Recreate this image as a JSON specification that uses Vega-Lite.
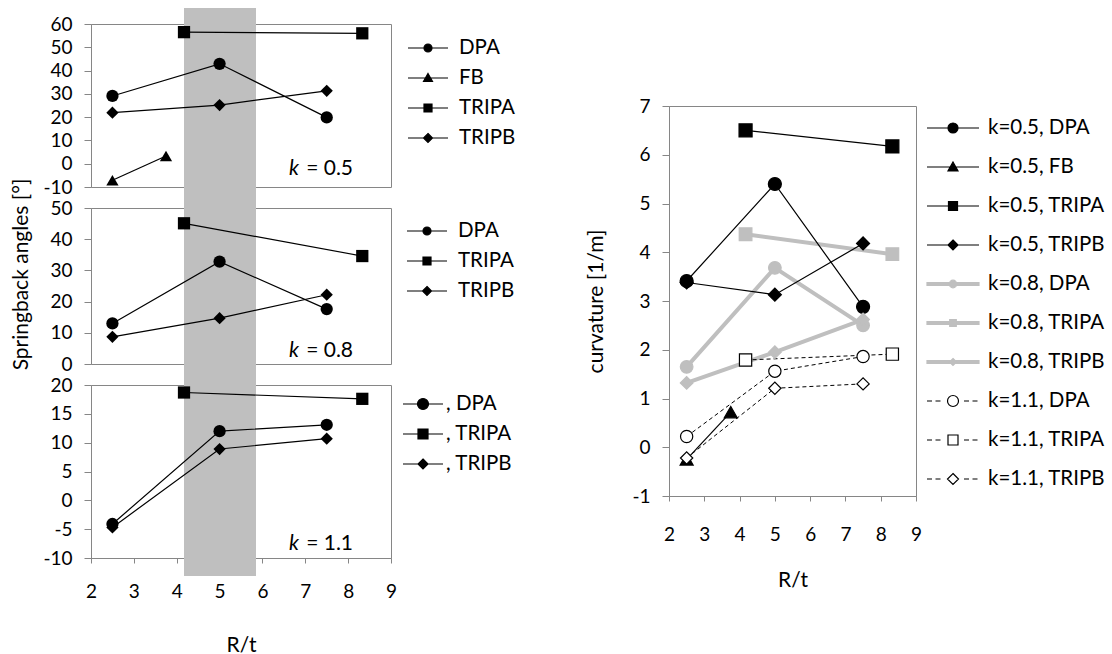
{
  "$schema": "https://vega.github.io/schema/vega-lite/v6.json",
  "background": "white",
  "padding": {"left": 10, "top": 7, "right": 0, "bottom": 0},
  "autosize": {"type": "pad"},
  "config": {
    "font": "Lato",
    "view": {"stroke": "#868686", "strokeWidth": 1},
    "axis": {"labelFont": "Lato", "labelFontSize": 19, "labelColor": "black", "domainColor": "#868686", "tickColor": "#868686", "grid": false, "titleFont": "Lato", "titleFontSize": 21, "titleFontWeight": "normal", "titleColor": "black", "labelFlush": false, "labelOverlap": false, "tickSize": 7, "labelPadding": 12},
    "legend": {"labelFont": "Lato", "labelFontSize": 20.5, "labelColor": "black"}
  },
  "datasets": {
    "band": [{"from": 4.17, "to": 5.85}],
    "left": [
      {"k": "0.5", "method": "DPA", "x": 2.5, "y": 29.1},
      {"k": "0.5", "method": "DPA", "x": 5, "y": 42.9},
      {"k": "0.5", "method": "DPA", "x": 7.5, "y": 19.9},
      {"k": "0.5", "method": "FB", "x": 2.5, "y": -7.1},
      {"k": "0.5", "method": "FB", "x": 3.75, "y": 3.3},
      {"k": "0.5", "method": "TRIPA", "x": 4.17, "y": 56.5},
      {"k": "0.5", "method": "TRIPA", "x": 8.33, "y": 56.0},
      {"k": "0.5", "method": "TRIPB", "x": 2.5, "y": 21.9},
      {"k": "0.5", "method": "TRIPB", "x": 5, "y": 25.2},
      {"k": "0.5", "method": "TRIPB", "x": 7.5, "y": 31.3},
      {"k": "0.8", "method": "DPA", "x": 2.5, "y": 13.0},
      {"k": "0.8", "method": "DPA", "x": 5, "y": 32.8},
      {"k": "0.8", "method": "DPA", "x": 7.5, "y": 17.6},
      {"k": "0.8", "method": "TRIPA", "x": 4.17, "y": 45.1},
      {"k": "0.8", "method": "TRIPA", "x": 8.33, "y": 34.6},
      {"k": "0.8", "method": "TRIPB", "x": 2.5, "y": 8.7},
      {"k": "0.8", "method": "TRIPB", "x": 5, "y": 14.7},
      {"k": "0.8", "method": "TRIPB", "x": 7.5, "y": 22.2},
      {"k": "1.1", "method": "DPA", "x": 2.5, "y": -4.1},
      {"k": "1.1", "method": "DPA", "x": 5, "y": 12.0},
      {"k": "1.1", "method": "DPA", "x": 7.5, "y": 13.1},
      {"k": "1.1", "method": "TRIPA", "x": 4.17, "y": 18.7},
      {"k": "1.1", "method": "TRIPA", "x": 8.33, "y": 17.6},
      {"k": "1.1", "method": "TRIPB", "x": 2.5, "y": -4.7},
      {"k": "1.1", "method": "TRIPB", "x": 5, "y": 8.9},
      {"k": "1.1", "method": "TRIPB", "x": 7.5, "y": 10.7}
    ],
    "right": [
      {"series": "k=0.5, DPA", "k": "0.5", "x": 2.5, "y": 3.41},
      {"series": "k=0.5, DPA", "k": "0.5", "x": 5, "y": 5.4},
      {"series": "k=0.5, DPA", "k": "0.5", "x": 7.5, "y": 2.88},
      {"series": "k=0.5, FB", "k": "0.5", "x": 2.5, "y": -0.25},
      {"series": "k=0.5, FB", "k": "0.5", "x": 3.75, "y": 0.72},
      {"series": "k=0.5, TRIPA", "k": "0.5", "x": 4.17, "y": 6.5},
      {"series": "k=0.5, TRIPA", "k": "0.5", "x": 8.33, "y": 6.17},
      {"series": "k=0.5, TRIPB", "k": "0.5", "x": 2.5, "y": 3.38},
      {"series": "k=0.5, TRIPB", "k": "0.5", "x": 5, "y": 3.13},
      {"series": "k=0.5, TRIPB", "k": "0.5", "x": 7.5, "y": 4.18},
      {"series": "k=0.8, DPA", "k": "0.8", "x": 2.5, "y": 1.65},
      {"series": "k=0.8, DPA", "k": "0.8", "x": 5, "y": 3.68},
      {"series": "k=0.8, DPA", "k": "0.8", "x": 7.5, "y": 2.5},
      {"series": "k=0.8, TRIPA", "k": "0.8", "x": 4.17, "y": 4.37},
      {"series": "k=0.8, TRIPA", "k": "0.8", "x": 8.33, "y": 3.96},
      {"series": "k=0.8, TRIPB", "k": "0.8", "x": 2.5, "y": 1.32},
      {"series": "k=0.8, TRIPB", "k": "0.8", "x": 5, "y": 1.95},
      {"series": "k=0.8, TRIPB", "k": "0.8", "x": 7.5, "y": 2.62},
      {"series": "k=1.1, DPA", "k": "1.1", "x": 2.5, "y": 0.22},
      {"series": "k=1.1, DPA", "k": "1.1", "x": 5, "y": 1.56},
      {"series": "k=1.1, DPA", "k": "1.1", "x": 7.5, "y": 1.86},
      {"series": "k=1.1, TRIPA", "k": "1.1", "x": 4.17, "y": 1.79},
      {"series": "k=1.1, TRIPA", "k": "1.1", "x": 8.33, "y": 1.91},
      {"series": "k=1.1, TRIPB", "k": "1.1", "x": 2.5, "y": -0.22},
      {"series": "k=1.1, TRIPB", "k": "1.1", "x": 5, "y": 1.21},
      {"series": "k=1.1, TRIPB", "k": "1.1", "x": 7.5, "y": 1.3}
    ]
  },
  "hconcat": [
    {
      "vconcat": [
        {
          "width": 300, "height": 163,
          "encoding": {
            "x": {"type": "quantitative", "scale": {"domain": [2, 9]}, "axis": null},
            "y": {"type": "quantitative", "scale": {"domain": [-10, 60]}, "axis": {"values": [-10, 0, 10, 20, 30, 40, 50, 60], "title": null, "labelOverlap": false, "labelExpr": "'' + datum.value"}}
          },
          "layer": [
            {"data": {"name": "band"}, "mark": {"type": "rect", "color": "#bfbfbf"},
             "encoding": {"x": {"field": "from", "type": "quantitative", "scale": {"domain": [2, 9]}, "axis": null}, "x2": {"field": "to"},
                          "y": {"datum": 66.9, "type": "quantitative", "scale": {"domain": [-10, 60]}, "axis": {"values": [-10, 0, 10, 20, 30, 40, 50, 60], "title": null, "labelOverlap": false, "labelExpr": "'' + datum.value"}}, "y2": {"datum": -19}}},
            {"data": {"name": "left"}, "transform": [{"filter": "datum.k == '0.5'"}], "mark": {"type": "line", "color": "black", "strokeWidth": 1.2},
             "encoding": {"x": {"field": "x"}, "y": {"field": "y"}, "detail": {"field": "method"}}},
            {"data": {"name": "left"}, "transform": [{"filter": "datum.k == '0.5'"}], "mark": {"type": "point", "filled": true, "color": "black", "opacity": 1, "size": 150},
             "encoding": {"x": {"field": "x"}, "y": {"field": "y"},
                          "shape": {"field": "method", "type": "nominal", "scale": {"domain": ["DPA", "FB", "TRIPA", "TRIPB"], "range": ["circle", "triangle-up", "square", "diamond"]}, "legend": null}}},
            {"data": {"name": "left"}, "transform": [{"filter": "false"}], "mark": {"type": "point", "filled": true, "opacity": 1},
             "encoding": {"x": {"field": "x"}, "y": {"field": "y"},
                          "fill": {"field": "method", "type": "nominal", "scale": {"domain": ["DPA", "FB", "TRIPA", "TRIPB"], "range": ["black", "black", "black", "black"]},
                                   "legend": {"title": null, "symbolSize": 400, "symbolOpacity": 1, "symbolStrokeWidth": 1.2, "labelOffset": 20, "offset": 13, "padding": 13, "rowPadding": 8}},
                          "stroke": {"field": "method", "type": "nominal", "scale": {"domain": ["DPA", "FB", "TRIPA", "TRIPB"], "range": ["black", "black", "black", "black"]},
                                   "legend": {"title": null, "symbolSize": 400, "symbolOpacity": 1, "symbolStrokeWidth": 1.2, "labelOffset": 20, "offset": 13, "padding": 13, "rowPadding": 8}},
                          "shape": {"field": "method", "type": "nominal", "scale": {"domain": ["DPA", "FB", "TRIPA", "TRIPB"], "range": ["M-2,0H2M-0.4,0A0.4,0.4 0 1,1 0.4,0A0.4,0.4 0 1,1 -0.4,0Z", "M-2,0H2M0,-0.45L0.45,0.35L-0.45,0.35Z", "M-2,0H2M-0.4,-0.4H0.4V0.4H-0.4Z", "M-2,0H2M0,-0.45L0.45,0L0,0.45L-0.45,0Z"]},
                                    "legend": {"title": null, "symbolSize": 400, "symbolOpacity": 1, "symbolStrokeWidth": 1.2, "labelOffset": 20, "offset": 13, "padding": 13, "rowPadding": 8}}}},
            {"data": {"values": [{"t": "k"}]}, "mark": {"type": "text", "fontSize": 21, "fontStyle": "italic", "align": "left", "baseline": "middle", "color": "black"},
             "encoding": {"x": {"datum": 6.62}, "y": {"datum": -2.3}, "text": {"field": "t"}}},
            {"data": {"values": [{"t": "= 0.5"}]}, "mark": {"type": "text", "fontSize": 21, "align": "left", "baseline": "middle", "color": "black"},
             "encoding": {"x": {"datum": 7.02}, "y": {"datum": -2.3}, "text": {"field": "t"}}}
          ],
          "resolve": {"scale": {"shape": "independent", "fill": "independent", "stroke": "independent"}, "legend": {"shape": "independent", "fill": "independent", "stroke": "independent"}}
        },
        {
          "width": 300, "height": 156,
          "encoding": {
            "x": {"type": "quantitative", "scale": {"domain": [2, 9]}, "axis": null},
            "y": {"type": "quantitative", "scale": {"domain": [0, 50]}, "axis": {"values": [0, 10, 20, 30, 40, 50], "title": "Springback angles [°]", "titleY": 66, "titlePadding": 18, "labelOverlap": false}}
          },
          "layer": [
            {"data": {"name": "band"}, "mark": {"type": "rect", "color": "#bfbfbf"},
             "encoding": {"x": {"field": "from", "type": "quantitative", "scale": {"domain": [2, 9]}, "axis": null}, "x2": {"field": "to"},
                          "y": {"datum": 50.3, "type": "quantitative", "scale": {"domain": [0, 50]}, "axis": {"values": [0, 10, 20, 30, 40, 50], "title": "Springback angles [°]", "titleY": 66, "titlePadding": 18, "labelOverlap": false}}, "y2": {"datum": -7.1}}},
            {"data": {"name": "left"}, "transform": [{"filter": "datum.k == '0.8'"}], "mark": {"type": "line", "color": "black", "strokeWidth": 1.2},
             "encoding": {"x": {"field": "x"}, "y": {"field": "y"}, "detail": {"field": "method"}}},
            {"data": {"name": "left"}, "transform": [{"filter": "datum.k == '0.8'"}], "mark": {"type": "point", "filled": true, "color": "black", "opacity": 1, "size": 150},
             "encoding": {"x": {"field": "x"}, "y": {"field": "y"},
                          "shape": {"field": "method", "type": "nominal", "scale": {"domain": ["DPA", "TRIPA", "TRIPB"], "range": ["circle", "square", "diamond"]}, "legend": null}}},
            {"data": {"name": "left"}, "transform": [{"filter": "false"}], "mark": {"type": "point", "filled": true, "opacity": 1},
             "encoding": {"x": {"field": "x"}, "y": {"field": "y"},
                          "fill": {"field": "method", "type": "nominal", "scale": {"domain": ["DPA", "TRIPA", "TRIPB"], "range": ["black", "black", "black"]},
                                   "legend": {"title": null, "symbolSize": 400, "symbolOpacity": 1, "symbolStrokeWidth": 1.2, "labelOffset": 20, "offset": 13, "padding": 12, "rowPadding": 8}},
                          "stroke": {"field": "method", "type": "nominal", "scale": {"domain": ["DPA", "TRIPA", "TRIPB"], "range": ["black", "black", "black"]},
                                   "legend": {"title": null, "symbolSize": 400, "symbolOpacity": 1, "symbolStrokeWidth": 1.2, "labelOffset": 20, "offset": 13, "padding": 12, "rowPadding": 8}},
                          "shape": {"field": "method", "type": "nominal", "scale": {"domain": ["DPA", "TRIPA", "TRIPB"], "range": ["M-2,0H2M-0.4,0A0.4,0.4 0 1,1 0.4,0A0.4,0.4 0 1,1 -0.4,0Z", "M-2,0H2M-0.4,-0.4H0.4V0.4H-0.4Z", "M-2,0H2M0,-0.45L0.45,0L0,0.45L-0.45,0Z"]},
                                    "legend": {"title": null, "symbolSize": 400, "symbolOpacity": 1, "symbolStrokeWidth": 1.2, "labelOffset": 20, "offset": 13, "padding": 12, "rowPadding": 8}}}},
            {"data": {"values": [{"t": "k"}]}, "mark": {"type": "text", "fontSize": 21, "fontStyle": "italic", "align": "left", "baseline": "middle", "color": "black"},
             "encoding": {"x": {"datum": 6.62}, "y": {"datum": 4.2}, "text": {"field": "t"}}},
            {"data": {"values": [{"t": "= 0.8"}]}, "mark": {"type": "text", "fontSize": 21, "align": "left", "baseline": "middle", "color": "black"},
             "encoding": {"x": {"datum": 7.02}, "y": {"datum": 4.2}, "text": {"field": "t"}}}
          ],
          "resolve": {"scale": {"shape": "independent", "fill": "independent", "stroke": "independent"}, "legend": {"shape": "independent", "fill": "independent", "stroke": "independent"}}
        },
        {
          "width": 300, "height": 173,
          "encoding": {
            "x": {"type": "quantitative", "scale": {"domain": [2, 9]}, "axis": {"values": [2, 3, 4, 5, 6, 7, 8, 9], "title": "R/t", "tickSize": 5, "labelPadding": 19, "titlePadding": 33, "labelOverlap": false}},
            "y": {"type": "quantitative", "scale": {"domain": [-10, 20]}, "axis": {"values": [-10, -5, 0, 5, 10, 15, 20], "title": null, "labelOverlap": false, "labelExpr": "'' + datum.value"}}
          },
          "layer": [
            {"data": {"name": "band"}, "mark": {"type": "rect", "color": "#bfbfbf"},
             "encoding": {"x": {"field": "from", "type": "quantitative", "scale": {"domain": [2, 9]}, "axis": {"values": [2, 3, 4, 5, 6, 7, 8, 9], "title": "R/t", "tickSize": 5, "labelPadding": 19, "titlePadding": 33, "labelOverlap": false}}, "x2": {"field": "to"},
                          "y": {"datum": 20.2, "type": "quantitative", "scale": {"domain": [-10, 20]}, "axis": {"values": [-10, -5, 0, 5, 10, 15, 20], "title": null, "labelOverlap": false, "labelExpr": "'' + datum.value"}}, "y2": {"datum": -13.1}}},
            {"data": {"name": "left"}, "transform": [{"filter": "datum.k == '1.1'"}], "mark": {"type": "line", "color": "black", "strokeWidth": 1.2},
             "encoding": {"x": {"field": "x"}, "y": {"field": "y"}, "detail": {"field": "method"}}},
            {"data": {"name": "left"}, "transform": [{"filter": "datum.k == '1.1'"}], "mark": {"type": "point", "filled": true, "color": "black", "opacity": 1, "size": 150},
             "encoding": {"x": {"field": "x"}, "y": {"field": "y"},
                          "shape": {"field": "method", "type": "nominal", "scale": {"domain": ["DPA", "TRIPA", "TRIPB"], "range": ["circle", "square", "diamond"]}, "legend": null}}},
            {"data": {"name": "left"}, "transform": [{"filter": "false"}], "mark": {"type": "point", "filled": true, "opacity": 1},
             "encoding": {"x": {"field": "x"}, "y": {"field": "y"},
                          "fill": {"field": "method", "type": "nominal", "scale": {"domain": ["DPA", "TRIPA", "TRIPB"], "range": ["black", "black", "black"]},
                                   "legend": {"title": null, "symbolSize": 400, "symbolOpacity": 1, "symbolStrokeWidth": 1.2, "labelOffset": 12, "offset": 13, "padding": 8, "rowPadding": 8, "labelExpr": "', ' + datum.label"}},
                          "stroke": {"field": "method", "type": "nominal", "scale": {"domain": ["DPA", "TRIPA", "TRIPB"], "range": ["black", "black", "black"]},
                                   "legend": {"title": null, "symbolSize": 400, "symbolOpacity": 1, "symbolStrokeWidth": 1.2, "labelOffset": 12, "offset": 13, "padding": 8, "rowPadding": 8, "labelExpr": "', ' + datum.label"}},
                          "shape": {"field": "method", "type": "nominal", "scale": {"domain": ["DPA", "TRIPA", "TRIPB"], "range": ["M-2,0H2M-0.55,0A0.55,0.55 0 1,1 0.55,0A0.55,0.55 0 1,1 -0.55,0Z", "M-2,0H2M-0.5,-0.5H0.5V0.5H-0.5Z", "M-2,0H2M0,-0.5L0.5,0L0,0.5L-0.5,0Z"]},
                                    "legend": {"title": null, "symbolSize": 400, "symbolOpacity": 1, "symbolStrokeWidth": 1.2, "labelOffset": 12, "offset": 13, "padding": 8, "rowPadding": 8, "labelExpr": "', ' + datum.label"}}}},
            {"data": {"values": [{"t": "k"}]}, "mark": {"type": "text", "fontSize": 21, "fontStyle": "italic", "align": "left", "baseline": "middle", "color": "black"},
             "encoding": {"x": {"datum": 6.62}, "y": {"datum": -7.6}, "text": {"field": "t"}}},
            {"data": {"values": [{"t": "= 1.1"}]}, "mark": {"type": "text", "fontSize": 21, "align": "left", "baseline": "middle", "color": "black"},
             "encoding": {"x": {"datum": 7.02}, "y": {"datum": -7.6}, "text": {"field": "t"}}}
          ],
          "resolve": {"scale": {"shape": "independent", "fill": "independent", "stroke": "independent"}, "legend": {"shape": "independent", "fill": "independent", "stroke": "independent"}}
        }
      ],
      "spacing": 21,
      "bounds": "flush",
      "resolve": {"scale": {"x": "independent", "y": "independent", "shape": "independent", "fill": "independent", "stroke": "independent"}, "axis": {"x": "independent", "y": "independent"}, "legend": {"shape": "independent", "fill": "independent", "stroke": "independent"}}
    },
    {
      "vconcat": [
        {
          "width": 247, "height": 61,
          "view": {"stroke": null},
          "data": {"values": []},
          "mark": {"type": "point"},
          "encoding": {}
        },
        {
          "width": 247, "height": 390,
          "data": {"name": "right"},
          "encoding": {
            "x": {"field": "x", "type": "quantitative", "scale": {"domain": [2, 9]}, "axis": {"values": [2, 3, 4, 5, 6, 7, 8, 9], "title": "R/t", "tickSize": 5, "labelPadding": 24, "titlePadding": 25, "labelOverlap": false}},
            "y": {"field": "y", "type": "quantitative", "scale": {"domain": [-1, 7]}, "axis": {"values": [-1, 0, 1, 2, 3, 4, 5, 6, 7], "title": "curvature [1/m]", "titlePadding": 25, "labelOverlap": false, "labelExpr": "'' + datum.value"}}
          },
          "layer": [
            {"transform": [{"filter": "datum.k == '0.8'"}], "mark": {"type": "line", "color": "#bfbfbf", "strokeWidth": 4},
             "encoding": {"detail": {"field": "series"}}},
            {"transform": [{"filter": "datum.k == '0.5'"}], "mark": {"type": "line", "color": "black", "strokeWidth": 1.2},
             "encoding": {"detail": {"field": "series"}}},
            {"transform": [{"filter": "datum.k == '1.1'"}], "mark": {"type": "line", "color": "black", "strokeWidth": 1, "strokeDash": [4, 3]},
             "encoding": {"detail": {"field": "series"}}},
            {"mark": {"type": "point", "opacity": 1, "strokeWidth": 1.2},
             "encoding": {
               "fill": {"field": "k", "type": "nominal", "scale": {"domain": ["0.5", "0.8", "1.1"], "range": ["black", "#bfbfbf", "white"]}, "legend": null},
               "stroke": {"field": "k", "type": "nominal", "scale": {"domain": ["0.5", "0.8", "1.1"], "range": ["black", "#bfbfbf", "black"]}, "legend": null},
               "size": {"field": "k", "type": "nominal", "scale": {"domain": ["0.5", "0.8", "1.1"], "range": [170, 150, 170]}, "legend": null},
               "shape": {"field": "series", "type": "nominal", "scale": {"domain": ["k=0.5, DPA", "k=0.5, FB", "k=0.5, TRIPA", "k=0.5, TRIPB", "k=0.8, DPA", "k=0.8, TRIPA", "k=0.8, TRIPB", "k=1.1, DPA", "k=1.1, TRIPA", "k=1.1, TRIPB"], "range": ["circle", "triangle-up", "square", "diamond", "circle", "square", "diamond", "circle", "square", "diamond"]}, "legend": null}
             }},
            {"transform": [{"filter": "false"}], "mark": {"type": "point", "opacity": 1, "filled": true},
             "encoding": {
               "fill": {"field": "series", "type": "nominal", "scale": {"domain": ["k=0.5, DPA", "k=0.5, FB", "k=0.5, TRIPA", "k=0.5, TRIPB", "k=0.8, DPA", "k=0.8, TRIPA", "k=0.8, TRIPB", "k=1.1, DPA", "k=1.1, TRIPA", "k=1.1, TRIPB"], "range": ["black", "black", "black", "black", "#bfbfbf", "#bfbfbf", "#bfbfbf", "white", "white", "white"]},
                        "legend": {"title": null, "symbolSize": 400, "symbolOpacity": 1, "symbolStrokeWidth": 1.2, "labelOffset": 24, "offset": 15, "padding": 11, "rowPadding": 17}},
               "stroke": {"field": "series", "type": "nominal", "scale": {"domain": ["k=0.5, DPA", "k=0.5, FB", "k=0.5, TRIPA", "k=0.5, TRIPB", "k=0.8, DPA", "k=0.8, TRIPA", "k=0.8, TRIPB", "k=1.1, DPA", "k=1.1, TRIPA", "k=1.1, TRIPB"], "range": ["black", "black", "black", "black", "#bfbfbf", "#bfbfbf", "#bfbfbf", "black", "black", "black"]},
                        "legend": {"title": null, "symbolSize": 400, "symbolOpacity": 1, "symbolStrokeWidth": 1.2, "labelOffset": 24, "offset": 15, "padding": 11, "rowPadding": 17}},
               "shape": {"field": "series", "type": "nominal", "scale": {"domain": ["k=0.5, DPA", "k=0.5, FB", "k=0.5, TRIPA", "k=0.5, TRIPB", "k=0.8, DPA", "k=0.8, TRIPA", "k=0.8, TRIPB", "k=1.1, DPA", "k=1.1, TRIPA", "k=1.1, TRIPB"],
                                                                  "range": ["M-2.6,0H2.6M-0.5,0A0.5,0.5 0 1,1 0.5,0A0.5,0.5 0 1,1 -0.5,0Z",
                                                                            "M-2.6,0H2.6M0,-0.5L0.5,0.4L-0.5,0.4Z",
                                                                            "M-2.6,0H2.6M-0.45,-0.45H0.45V0.45H-0.45Z",
                                                                            "M-2.6,0H2.6M0,-0.5L0.5,0L0,0.5L-0.5,0Z",
                                                                            "M-2.6,-0.14H2.6V0.14H-2.6ZM-0.38,0A0.38,0.38 0 1,1 0.38,0A0.38,0.38 0 1,1 -0.38,0Z",
                                                                            "M-2.6,-0.14H2.6V0.14H-2.6ZM-0.33,-0.33H0.33V0.33H-0.33Z",
                                                                            "M-2.6,-0.14H2.6V0.14H-2.6ZM0,-0.35L0.35,0L0,0.35L-0.35,0Z",
                                                                            "M-2.6,0H-2.1M-1.75,0H-1.25M1.1,0H1.6M1.95,0H2.45M-0.55,0A0.55,0.55 0 1,1 0.55,0A0.55,0.55 0 1,1 -0.55,0Z",
                                                                            "M-2.6,0H-2.1M-1.75,0H-1.25M1.1,0H1.6M1.95,0H2.45M-0.5,-0.5H0.5V0.5H-0.5Z",
                                                                            "M-2.6,0H-2.1M-1.75,0H-1.25M1.1,0H1.6M1.95,0H2.45M0,-0.55L0.55,0L0,0.55L-0.55,0Z"]},
                         "legend": {"title": null, "symbolSize": 400, "symbolOpacity": 1, "symbolStrokeWidth": 1.2, "labelOffset": 24, "offset": 15, "padding": 11, "rowPadding": 17}}
             }}
          ],
          "resolve": {"scale": {"shape": "independent", "fill": "independent", "stroke": "independent"}, "legend": {"shape": "independent", "fill": "independent", "stroke": "independent"}}
        }
      ],
      "spacing": 21,
      "bounds": "flush",
      "resolve": {"legend": {"shape": "independent", "fill": "independent", "stroke": "independent"}}
    }
  ],
  "spacing": 55,
  "resolve": {"scale": {"x": "independent", "y": "independent", "shape": "independent", "fill": "independent", "stroke": "independent"}, "axis": {"x": "independent", "y": "independent"}, "legend": {"shape": "independent", "fill": "independent", "stroke": "independent"}}
}
